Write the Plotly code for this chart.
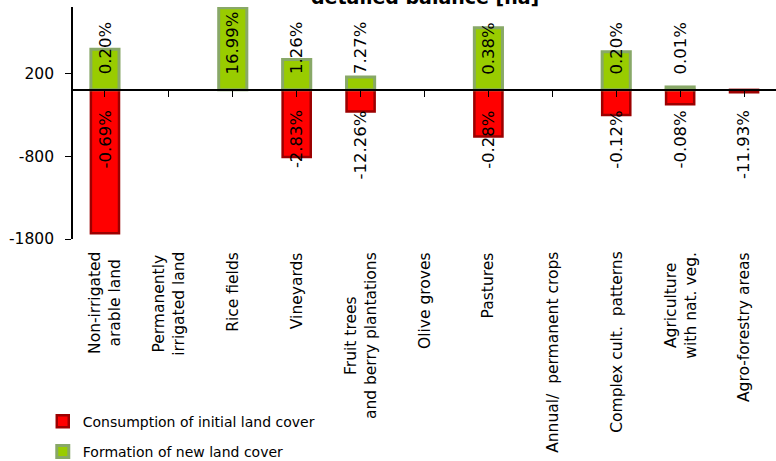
import plotly.graph_objects as go

# Land-cover flows per class [ha]
categories = [
    "Non-irrigated<br>arable land",
    "Permanently<br>irrigated land",
    "Rice fields",
    "Vineyards",
    "Fruit trees<br>and berry plantations",
    "Olive groves",
    "Pastures",
    "Annual/\u00a0 permanent crops",
    "Complex cult.\u00a0 patterns",
    "Agriculture<br>with nat. veg.",
    "Agro-forestry areas",
]
formation = [490, None, 990, 365, 155, None, 750, None, 460, 35, None]
consumption = [-1730, None, None, -810, -262, None, -562, None, -302, -175, -29]
formation_pct = ["0.20%", "", "16.99%", "1.26%", "7.27%", "", "0.38%", "", "0.20%", "0.01%", ""]
consumption_pct = ["-0.69%", "", "", "-2.83%", "-12.26%", "", "-0.28%", "", "-0.12%", "-0.08%", "-11.93%"]

y_ticks = [200, -800, -1800]
y_range = [-1800, 1000]

FONT = "DejaVu Sans"
idx = list(range(len(categories)))

fig = go.Figure()
fig.add_trace(go.Bar(
    x=idx, y=consumption, name="Consumption of initial land cover",
    legendgroup="c", width=0.44,
    marker=dict(color="#ff0000", line=dict(color="#9c0000", width=2.5)),
))
fig.add_trace(go.Bar(
    x=idx, y=formation, name="Formation of new land cover",
    legendgroup="f", width=0.44,
    marker=dict(color="#99cc00", line=dict(color="#88a868", width=3)),
))

annotations = []
# percentage labels above and below the zero line
for i, t in enumerate(formation_pct):
    if t:
        annotations.append(dict(x=i, y=200, xref="x", yref="y", text=t, textangle=-90,
                                showarrow=False, yanchor="bottom", xanchor="center", yshift=-3,
                                font=dict(family=FONT, size=16.5, color="black")))
for i, t in enumerate(consumption_pct):
    if t:
        annotations.append(dict(x=i, y=-200, xref="x", yref="y", text=t, textangle=-90,
                                showarrow=False, yanchor="top", xanchor="center", yshift=-2,
                                font=dict(family=FONT, size=16.5, color="black")))
# category names under the plot area
for i, c in enumerate(categories):
    annotations.append(dict(x=i, y=0, xref="x", yref="paper", text=c, textangle=-90,
                            showarrow=False, yanchor="top", xanchor="center", align="center",
                            yshift=-11, font=dict(family=FONT, size=15.5, color="black")))
# chart title
annotations.append(dict(x=0.5, y=1, xref="paper", yref="paper", text="<b>detailed balance [ha]</b>",
                        showarrow=False, yanchor="bottom", xanchor="center", yshift=-3,
                        font=dict(family=FONT, size=19, color="black")))

zero_pos = (0 - y_range[0]) / (y_range[1] - y_range[0])

fig.update_layout(
    width=776, height=461,
    margin=dict(l=73, r=0, t=7, b=222, autoexpand=False),
    paper_bgcolor="white", plot_bgcolor="white",
    barmode="overlay",
    font=dict(family=FONT, color="black"),
    annotations=annotations,
    showlegend=True,
    legend=dict(
        x=-0.043, y=-0.718, xanchor="left", yanchor="top",
        traceorder="grouped", tracegroupgap=9,
        font=dict(family=FONT, size=14, color="black"),
        bgcolor="rgba(0,0,0,0)",
    ),
    xaxis=dict(
        range=[-0.5, len(categories) - 0.5],
        tickvals=idx, showticklabels=False,
        anchor="free", position=zero_pos,
        showline=True, linecolor="black", linewidth=1.8,
        ticks="outside", tickson="boundaries", ticklen=6, tickcolor="black",
        showgrid=False, zeroline=False, fixedrange=True,
    ),
    yaxis=dict(
        range=y_range, tickvals=y_ticks, ticktext=[str(v) for v in y_ticks],
        showline=True, linecolor="black", linewidth=1.8,
        ticks="outside", ticklen=6, tickcolor="black", ticklabelstandoff=8,
        showgrid=False, zeroline=False,
        tickfont=dict(family=FONT, size=15.5, color="black"),
    ),
)

fig.write_html("out.html")
